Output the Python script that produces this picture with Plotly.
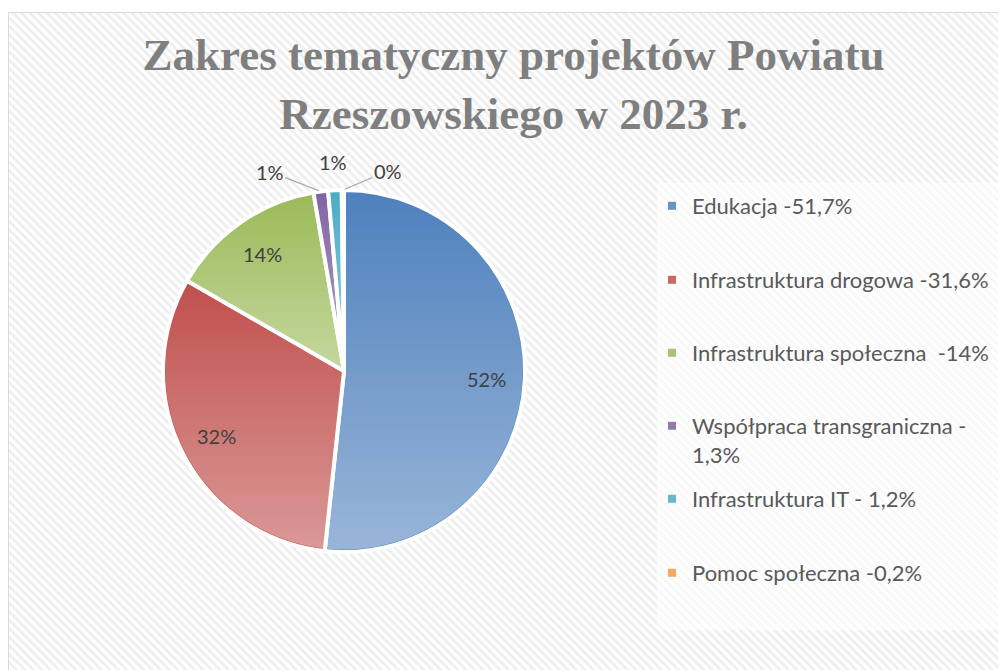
import math
import zlib
import struct
import base64
import numpy as np
import plotly.graph_objects as go

# ---- data ----
categories = [
    "Edukacja -51,7%",
    "Infrastruktura drogowa -31,6%",
    "Infrastruktura społeczna  -14%",
    "Współpraca transgraniczna -<br>1,3%",
    "Infrastruktura IT - 1,2%",
    "Pomoc społeczna -0,2%",
]
values = [51.7, 31.6, 14.0, 1.3, 1.2, 0.2]
colors = ["#4f81bd", "#c0504d", "#9bbb59", "#8064a2", "#4bacc6", "#f79646"]
title_text = "Zakres tematyczny projektów Powiatu<br>Rzeszowskiego w 2023 r."

# figure size; the page puts the figure 8px in from the window's corner
W, H = 998, 662
OFF = 8
text_font = "Lato, Carlito, 'Liberation Sans', sans-serif"
GRAD = 0.42  # strength of the white shading at the bottom of each slice


def fx(sx):
    return sx - OFF


def fy(sy):
    return sy - OFF


def lighten(hexcol, a):
    c = [int(hexcol[i:i + 2], 16) for i in (1, 3, 5)]
    c = [round(v + (255 - v) * a) for v in c]
    return "#%02x%02x%02x" % tuple(c)


def png_rgba(arr):
    h, w, _ = arr.shape
    raw = b"".join(b"\x00" + arr[i].tobytes() for i in range(h))

    def chunk(t, d):
        return struct.pack(">I", len(d)) + t + d + struct.pack(">I", zlib.crc32(t + d) & 0xFFFFFFFF)

    return (b"\x89PNG\r\n\x1a\n"
            + chunk(b"IHDR", struct.pack(">IIBBBBB", w, h, 8, 6, 0, 0, 0))
            + chunk(b"IDAT", zlib.compress(raw, 9))
            + chunk(b"IEND", b""))


fig = go.Figure()

# hatched chart background (pixel-space axes)
fig.add_trace(go.Scatter(
    x=[0, W + 2, W + 2, 0, 0], y=[fy(12.5), fy(12.5), H + 2, H + 2, fy(12.5)],
    mode="lines", fill="toself", line=dict(width=0),
    fillcolor="white",
    fillpattern=dict(shape="\\", fgcolor="#dedede", bgcolor="white", size=6, solidity=0.45),
    hoverinfo="skip", showlegend=False,
))

# pie geometry (figure pixels)
cx, cy, r = fx(344), fy(371), 181
fig.add_trace(go.Pie(
    labels=categories, values=values, sort=False, direction="clockwise", rotation=0,
    marker=dict(colors=colors, line=dict(color="white", width=4)),
    textinfo="none",
    domain=dict(x=[(cx - r) / W, (cx + r) / W],
                y=[(H - cy - r) / H, (H - cy + r) / H]),
    showlegend=False, hoverinfo="label+percent",
))

# vertical light shading inside every slice (white, transparent at slice top)
total = sum(values)
bounds = np.cumsum([0.0] + [v / total for v in values]) * 2 * math.pi
n = 2 * r
jj, ii = np.meshgrid(np.arange(n) + 0.5, np.arange(n) + 0.5)
dx = jj - r
dy = ii - r
rad = np.hypot(dx, dy)
theta = np.mod(np.arctan2(dx, -dy), 2 * math.pi)
alpha = np.zeros((n, n))
for k in range(len(values)):
    a0, a1 = bounds[k], bounds[k + 1]
    ys = [0.0, -r * math.cos(a0), -r * math.cos(a1)]
    if a0 <= 0.0 <= a1:
        ys.append(-r)
    if a0 <= math.pi <= a1:
        ys.append(r)
    top, bot = min(ys), max(ys)
    m = (theta >= a0) & (theta < a1)
    t = np.clip((dy - top) / max(bot - top, 1e-6), 0, 1)
    alpha[m] = GRAD * t[m]
edge = np.clip(r - 2.0 - rad, 0, 1)
img = np.zeros((n, n, 4), dtype=np.uint8)
img[..., :3] = 255
img[..., 3] = np.round(alpha * edge * 255).astype(np.uint8)
shade_src = "data:image/png;base64," + base64.b64encode(png_rgba(img)).decode()

# percentage labels placed along each slice's mid-angle
annotations = []
cum = 0.0
# label placement style: (inside?, dx, dy, leader line colour)
label_style = [
    (True, 0, 0, None),
    (True, 0, 0, None),
    (True, 0, 0, None),
    (False, -51, -20, "#a6a6a6"),
    (False, -2, -28, "rgba(0,0,0,0)"),
    (False, 45, -19, "#a6a6a6"),
]
for v, (inside, ddx, ddy, lc) in zip(values, label_style):
    frac = v / total
    mid = (cum + frac / 2) * 2 * math.pi
    cum += frac
    txt = f"{round(frac * 100)}%"
    if inside:
        rr = 0.79 * r
        annotations.append(dict(
            x=cx + rr * math.sin(mid), y=cy - rr * math.cos(mid), xref="x", yref="y",
            text=txt, showarrow=False,
            font=dict(family=text_font, size=20, color="#404040"),
        ))
    else:
        ex, ey = cx + r * math.sin(mid), cy - r * math.cos(mid)
        annotations.append(dict(
            x=ex, y=ey, xref="x", yref="y", ax=ddx, ay=ddy,
            text=txt, showarrow=True, arrowhead=0, arrowwidth=1.2, arrowcolor=lc,
            standoff=2,
            font=dict(family=text_font, size=20, color="#404040"),
        ))

# legend entries (one legend per entry to reproduce the wide even spacing)
legend_y = [207, 281, 354, 427, 500, 574]
for i, (name, col) in enumerate(zip(categories, colors)):
    key = "legend" if i == 0 else f"legend{i + 1}"
    fig.add_trace(go.Scatter(
        x=[None], y=[None], mode="markers",
        marker=dict(symbol="square", size=8, color=lighten(col, 0.15)),
        name=name, legend=key, showlegend=True,
    ))
    fig.layout[key] = dict(
        x=fx(652) / W, xanchor="left", y=(H - fy(legend_y[i] - 22)) / H, yanchor="top",
        bgcolor="rgba(0,0,0,0)", borderwidth=0, valign="top",
        font=dict(family=text_font, size=22, color="#595959"),
    )

fig.update_layout(
    width=W, height=H, autosize=False,
    margin=dict(l=0, r=0, t=0, b=0, autoexpand=False),
    paper_bgcolor="white", plot_bgcolor="white",
    xaxis=dict(range=[0, W], visible=False, fixedrange=True),
    yaxis=dict(range=[H, 0], visible=False, fixedrange=True),
    title=dict(text=title_text, x=fx(513.5) / W, xanchor="center",
               y=(H - 62) / H, yanchor="top",
               font=dict(family="'Liberation Serif', 'DejaVu Serif', serif", size=45,
                         color="#7f7f7f", weight="bold")),
    annotations=annotations,
    images=[dict(source=shade_src, xref="paper", yref="paper",
                 x=(cx - r) / W, y=(H - (cy - r)) / H, sizex=2 * r / W, sizey=2 * r / H,
                 xanchor="left", yanchor="top", sizing="stretch", layer="above")],
    shapes=[
        dict(type="rect", xref="x", yref="y", x0=fx(657), y0=fy(183), x1=W + 5, y1=fy(630),
             fillcolor="rgba(255,255,255,0.6)", line=dict(width=0), layer="above"),
        dict(type="rect", xref="x", yref="y", x0=0.5, y0=fy(12.5), x1=W + 10, y1=H + 10,
             fillcolor="rgba(0,0,0,0)", line=dict(color="#d9d9d9", width=1), layer="above"),
    ],
)

fig.write_html("out.html")
